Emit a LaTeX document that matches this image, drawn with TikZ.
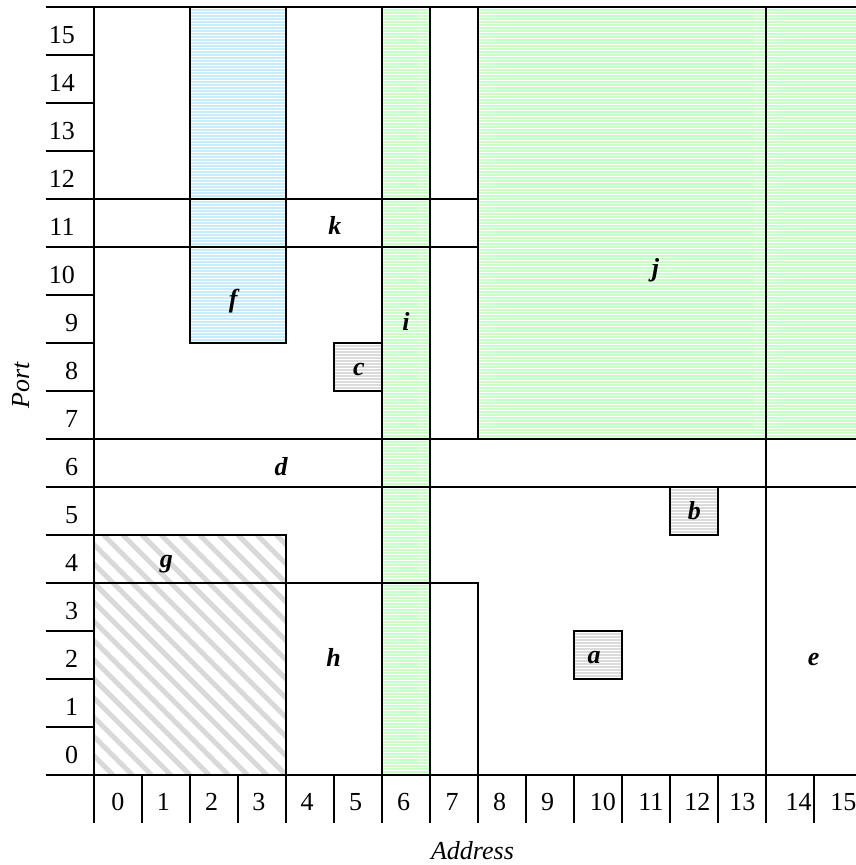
\documentclass[tikz,border=0pt]{standalone}
\usepackage{fontspec}
\setmainfont{Liberation Serif}
\begin{document}
\begin{tikzpicture}[x=48pt,y=48pt,
  ln/.style={line width=2.8pt},
  greenfill/.style={draw=green!22, line width=1.3pt},
  bluefill/.style={draw=cyan!22, line width=1.3pt},
  grayfill/.style={draw=black!14, line width=1.1pt},
  hatch/.style={draw=black!15, line width=5pt},
  lbl/.style={font=\fontsize{26}{30}\selectfont\bfseries\itshape, inner sep=0pt, anchor=base},
  num/.style={font=\fontsize{26}{30}\selectfont, inner sep=0pt, anchor=base},
  ttl/.style={font=\fontsize{26}{30}\selectfont\itshape, inner sep=0pt}]
\useasboundingbox (-1.9583,-1.875) rectangle (15.875,16.1458);
% --- fills ---
% i (green column)
\path[greenfill] foreach \k in {1,...,255} {(6,\k/16) -- (7,\k/16)};
% j (green block)
\path[greenfill] foreach \k in {1,...,143} {(8,7+\k/16) -- (16,7+\k/16)};
% f (blue column)
\path[bluefill] foreach \k in {1,...,111} {(2,9+\k/16) -- (4,9+\k/16)};
% g (diagonal hatching)
\begin{scope}
  \clip (0,0) rectangle (4,5);
  \path[hatch] foreach \k in {0,...,23} {(\k*0.4-5,5) -- ++(5,-5)};
\end{scope}
% a, b, c (gray lines)
\path[grayfill] foreach \k in {1,...,15} {(10,2+\k/16) -- (11,2+\k/16)};
\path[grayfill] foreach \k in {1,...,15} {(12,5+\k/16) -- (13,5+\k/16)};
\path[grayfill] foreach \k in {1,...,15} {(5,8+\k/16) -- (6,8+\k/16)};
% --- lines ---
\draw[ln] (-1,16) -- (16,16);
\draw[ln] (-1,0) -- (16,0);
\draw[ln] foreach \r in {1,...,15} {(-1,\r) -- (0,\r)};
\draw[ln] foreach \c in {0,...,16} {(\c,0) -- (\c,-1)};
\draw[ln] (0,0) -- (0,16);
\draw[ln] (2,16) -- (2,9) -- (4,9) -- (4,16);
\draw[ln] (0,12) -- (8,12);
\draw[ln] (0,11) -- (8,11);
\draw[ln] (6,0) -- (6,16);
\draw[ln] (7,0) -- (7,16);
\draw[ln] (8,16) -- (8,7);
\draw[ln] (0,7) -- (16,7);
\draw[ln] (0,6) -- (16,6);
\draw[ln] (14,0) -- (14,16);
\draw[ln] (0,5) -- (4,5) -- (4,0);
\draw[ln] (0,4) -- (8,4) -- (8,0);
\draw[ln] (10,2) rectangle (11,3);
\draw[ln] (12,5) rectangle (13,6);
\draw[ln] (5,8) rectangle (6,9);
% --- region labels ---
\node[lbl] (la) at (10.417,2.327) {a};
\node[lbl] (lb) at (12.51,5.326) {b};
\node[lbl] (lc) at (5.52,8.3125) {c};
\node[lbl] (ld) at (3.9,6.23) {d};
\node[lbl] (le) at (14.99,2.29) {e};
\node[lbl] (lf) at (2.9,9.73) {f};
\node[lbl] (lg) at (1.507,4.33) {g};
\node[lbl] (lh) at (4.99,2.256) {h};
\node[lbl] (li) at (6.5,9.27) {i};
\node[lbl] (lj) at (11.7,10.385) {j};
\node[lbl] (lk) at (5.02,11.25) {k};
% --- axis numbers ---
\foreach \r in {0,...,9} \node[num] (y\r) at (-0.465,\r+0.244) {\r};
\foreach \r in {10,...,15} \node[num] (y\r) at (-0.667,\r+0.244) {\r};
\foreach \c/\x in {0/0.5,1/1.444,2/2.452,3/3.4375,4/4.44,5/5.45,6/6.45,7/7.46,8/8.45,9/9.45,10/10.6,11/11.6,12/12.57,13/13.51,14/14.68,15/15.61}
  \node[num] (x\c) at (\x,-0.744) {\c};
% --- axis titles ---
\node[ttl, rotate=90] (port) at (-1.525,8.125) {Port};
\node[ttl] (addr) at (7.885,-1.573) {Address};
\end{tikzpicture}
\end{document}
